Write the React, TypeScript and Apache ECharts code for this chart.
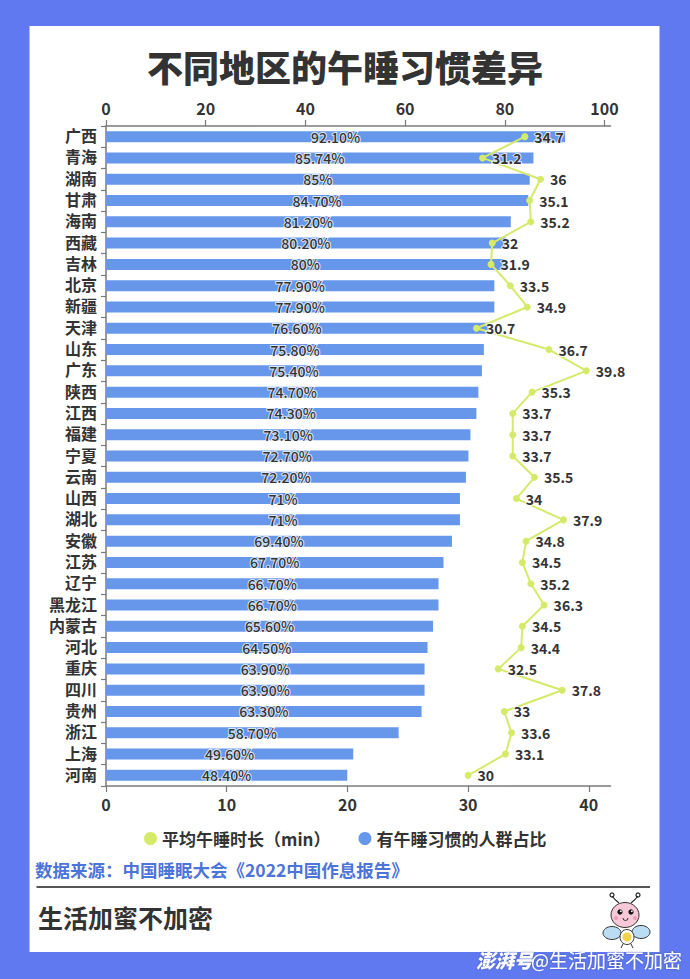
import React, { useEffect, useRef } from 'react';
import * as echarts from 'echarts';

const categories = ['广西', '青海', '湖南', '甘肃', '海南', '西藏', '吉林', '北京', '新疆', '天津', '山东', '广东', '陕西', '江西', '福建', '宁夏', '云南', '山西', '湖北', '安徽', '江苏', '辽宁', '黑龙江', '内蒙古', '河北', '重庆', '四川', '贵州', '浙江', '上海', '河南'];

const shareValues = [92.1, 85.74, 85, 84.7, 81.2, 80.2, 80, 77.9, 77.9, 76.6, 75.8, 75.4, 74.7, 74.3, 73.1, 72.7, 72.2, 71, 71, 69.4, 67.7, 66.7, 66.7, 65.6, 64.5, 63.9, 63.9, 63.3, 58.7, 49.6, 48.4];

const shareLabels = ['92.10%', '85.74%', '85%', '84.70%', '81.20%', '80.20%', '80%', '77.90%', '77.90%', '76.60%', '75.80%', '75.40%', '74.70%', '74.30%', '73.10%', '72.70%', '72.20%', '71%', '71%', '69.40%', '67.70%', '66.70%', '66.70%', '65.60%', '64.50%', '63.90%', '63.90%', '63.30%', '58.70%', '49.60%', '48.40%'];

const napMinutes = [34.7, 31.2, 36, 35.1, 35.2, 32, 31.9, 33.5, 34.9, 30.7, 36.7, 39.8, 35.3, 33.7, 33.7, 33.7, 35.5, 34, 37.9, 34.8, 34.5, 35.2, 36.3, 34.5, 34.4, 32.5, 37.8, 33, 33.6, 33.1, 30];

const topTicks = [0, 20, 40, 60, 80, 100];
const bottomTicks = [0, 10, 20, 30, 40];

const seriesNames = ['平均午睡时长（min）', '有午睡习惯的人群占比'];

const FONT = '"Noto Sans CJK SC", "Noto Sans", sans-serif';
const LABEL_FONT = 'Roboto, "Noto Sans CJK SC", sans-serif';
const BLUE = '#6797ea';
const GREEN = '#d5ea6a';
const BG = '#6079f0';
const TEXT = '#333333';
const AXIS = '#7a7a7a';

export default function App() {
  const ref = useRef<HTMLDivElement>(null);

  useEffect(() => {
    if (!ref.current) return;
    const chart = echarts.init(ref.current, null, { renderer: 'svg' });

    const option: any = {
      animation: false,
      backgroundColor: BG,
      textStyle: { fontFamily: FONT },
      graphic: [
        {
          type: 'rect',
          z: -10,
          shape: { x: 29.5, y: 26, width: 630, height: 926 },
          style: { fill: '#ffffff' },
        },
        {
          type: 'text',
          x: 345,
          y: 66,
          style: {
            text: '不同地区的午睡习惯差异',
            fontSize: 36,
            fontWeight: 900,
            fontFamily: FONT,
            fill: TEXT,
            align: 'center',
            verticalAlign: 'middle',
          },
        },
        {
          type: 'text',
          x: 35,
          y: 869,
          style: {
            text: '数据来源：中国睡眠大会《2022中国作息报告》',
            fontSize: 17.5,
            fontWeight: 'bold',
            fontFamily: FONT,
            fill: '#4d74d9',
            align: 'left',
            verticalAlign: 'middle',
          },
        },
        {
          type: 'line',
          shape: { x1: 36.5, y1: 887, x2: 650, y2: 887 },
          style: { stroke: '#555555', lineWidth: 2 },
        },
        {
          type: 'text',
          x: 38,
          y: 917,
          style: {
            text: '生活加蜜不加密',
            fontSize: 25,
            fontWeight: 'bold',
            fontFamily: FONT,
            fill: TEXT,
            align: 'left',
            verticalAlign: 'middle',
          },
        },
        // bee logo
        {
          type: 'group',
          children: [
            { type: 'bezierCurve', shape: { x1: 619, y1: 903, x2: 612, y2: 896, cpx1: 615, cpy1: 900 }, style: { stroke: '#222', lineWidth: 1.2, fill: 'none' } },
            { type: 'bezierCurve', shape: { x1: 631, y1: 903, x2: 638, y2: 896, cpx1: 635, cpy1: 900 }, style: { stroke: '#222', lineWidth: 1.2, fill: 'none' } },
            { type: 'circle', shape: { cx: 612, cy: 895, r: 2 }, style: { fill: 'none', stroke: '#222', lineWidth: 1.2 } },
            { type: 'circle', shape: { cx: 638, cy: 895, r: 2 }, style: { fill: 'none', stroke: '#222', lineWidth: 1.2 } },
            { type: 'ellipse', shape: { cx: 612, cy: 933, rx: 9, ry: 6.5 }, style: { fill: '#bcdcf3', stroke: '#333', lineWidth: 1 } },
            { type: 'ellipse', shape: { cx: 641, cy: 932, rx: 9, ry: 6.5 }, style: { fill: '#bcdcf3', stroke: '#333', lineWidth: 1 } },
            { type: 'line', shape: { x1: 623, y1: 944, x2: 621, y2: 948 }, style: { stroke: '#333', lineWidth: 1 } },
            { type: 'line', shape: { x1: 631, y1: 944, x2: 633, y2: 948 }, style: { stroke: '#333', lineWidth: 1 } },
            { type: 'ellipse', shape: { cx: 627, cy: 937, rx: 7, ry: 7.5 }, style: { fill: '#ffffff', stroke: '#333', lineWidth: 1 } },
            { type: 'circle', shape: { cx: 627, cy: 937, r: 4.5 }, style: { fill: '#f3d24a' } },
            { type: 'ellipse', shape: { cx: 625, cy: 915, rx: 14, ry: 12.5 }, style: { fill: '#f7c8d8', stroke: '#333', lineWidth: 1 } },
            { type: 'circle', shape: { cx: 620, cy: 912, r: 2.6 }, style: { fill: '#111' } },
            { type: 'circle', shape: { cx: 631, cy: 912, r: 2.6 }, style: { fill: '#111' } },
            { type: 'circle', shape: { cx: 620.8, cy: 911.2, r: 0.9 }, style: { fill: '#fff' } },
            { type: 'circle', shape: { cx: 631.8, cy: 911.2, r: 0.9 }, style: { fill: '#fff' } },
            { type: 'circle', shape: { cx: 616, cy: 918, r: 2 }, style: { fill: '#f29ab5' } },
            { type: 'circle', shape: { cx: 635, cy: 918, r: 2 }, style: { fill: '#f29ab5' } },
            { type: 'arc', shape: { cx: 625.5, cy: 918, r: 2.5, startAngle: 0, endAngle: Math.PI }, style: { stroke: '#333', lineWidth: 1, fill: 'none' } },
          ],
        },
        {
          type: 'text',
          x: 476,
          y: 959,
          style: {
            text: '澎湃号',
            fontSize: 19,
            fontWeight: 900,
            fontStyle: 'italic',
            fontFamily: FONT,
            fill: '#ffffff',
            align: 'left',
            verticalAlign: 'middle',
            textShadowColor: 'rgba(0,0,0,0.25)',
            textShadowBlur: 2,
          },
        },
        {
          type: 'text',
          x: 531,
          y: 959,
          style: {
            text: '@生活加蜜不加密',
            fontSize: 19,
            fontFamily: FONT,
            fill: '#ffffff',
            align: 'left',
            verticalAlign: 'middle',
            textShadowColor: 'rgba(0,0,0,0.3)',
            textShadowBlur: 2,
          },
        },
      ],
      legend: {
        data: seriesNames,
        left: 139,
        top: 837 - 12,
        icon: 'circle',
        itemWidth: 13,
        itemHeight: 13,
        itemGap: 28,
        textStyle: { fontSize: 17, fontWeight: 'bold', color: TEXT, fontFamily: FONT },
      },
      grid: { left: 106, right: 79.5, top: 126, bottom: 193, containLabel: false },
      xAxis: [
        {
          type: 'value',
          position: 'top',
          min: 0,
          max: 101.2,
          interval: 20,
          axisLine: { show: true, lineStyle: { color: AXIS, width: 1.5 } },
          axisTick: { show: true, length: 6, customValues: topTicks, lineStyle: { color: AXIS, width: 1.2 } },
          axisLabel: { customValues: topTicks, fontSize: 16, fontWeight: 'bold', color: TEXT, margin: 10, fontFamily: FONT },
          splitLine: { show: false },
        },
        {
          type: 'value',
          position: 'bottom',
          min: 0,
          max: 41.8,
          interval: 10,
          axisLine: { show: true, lineStyle: { color: AXIS, width: 1.5 } },
          axisTick: { show: true, length: 6, customValues: bottomTicks, lineStyle: { color: AXIS, width: 1.2 } },
          axisLabel: { customValues: bottomTicks, fontSize: 16, fontWeight: 'bold', color: TEXT, margin: 10, fontFamily: FONT },
          splitLine: { show: false },
        },
      ],
      yAxis: {
        type: 'category',
        inverse: true,
        data: categories,
        axisLine: { show: true, lineStyle: { color: AXIS, width: 1.5 } },
        axisTick: { show: true, length: 5, lineStyle: { color: AXIS, width: 1.2 } },
        axisLabel: { fontSize: 16, lineHeight: 18, fontWeight: 'bold', color: TEXT, margin: 9, fontFamily: LABEL_FONT },
      },
      series: [
        {
          name: seriesNames[1],
          type: 'bar',
          xAxisIndex: 0,
          yAxisIndex: 0,
          data: shareValues,
          barWidth: 11,
          itemStyle: { color: BLUE },
          z: 2,
          label: {
            show: true,
            position: 'inside',
            formatter: (p: any) => shareLabels[p.dataIndex],
            color: TEXT,
            fontSize: 14,
            fontWeight: 500,
            fontFamily: FONT,
            textBorderColor: 'rgba(255,255,255,0.75)',
            textBorderWidth: 2,
          },
        },
        {
          name: seriesNames[0],
          type: 'line',
          xAxisIndex: 1,
          yAxisIndex: 0,
          data: napMinutes,
          z: 3,
          symbol: 'circle',
          symbolSize: 7,
          lineStyle: { color: GREEN, width: 2 },
          itemStyle: { color: GREEN },
          label: {
            show: true,
            position: 'right',
            distance: 6,
            color: TEXT,
            fontSize: 14,
            fontWeight: 'bold',
            fontFamily: FONT,
            textBorderColor: 'rgba(255,255,255,0.8)',
            textBorderWidth: 2,
          },
        },
      ],
    };

    chart.setOption(option);
    return () => chart.dispose();
  }, []);

  return (
    <div
      ref={ref}
      style={{ position: 'absolute', left: 0, top: 0, width: 690, height: 979 }}
    />
  );
}
